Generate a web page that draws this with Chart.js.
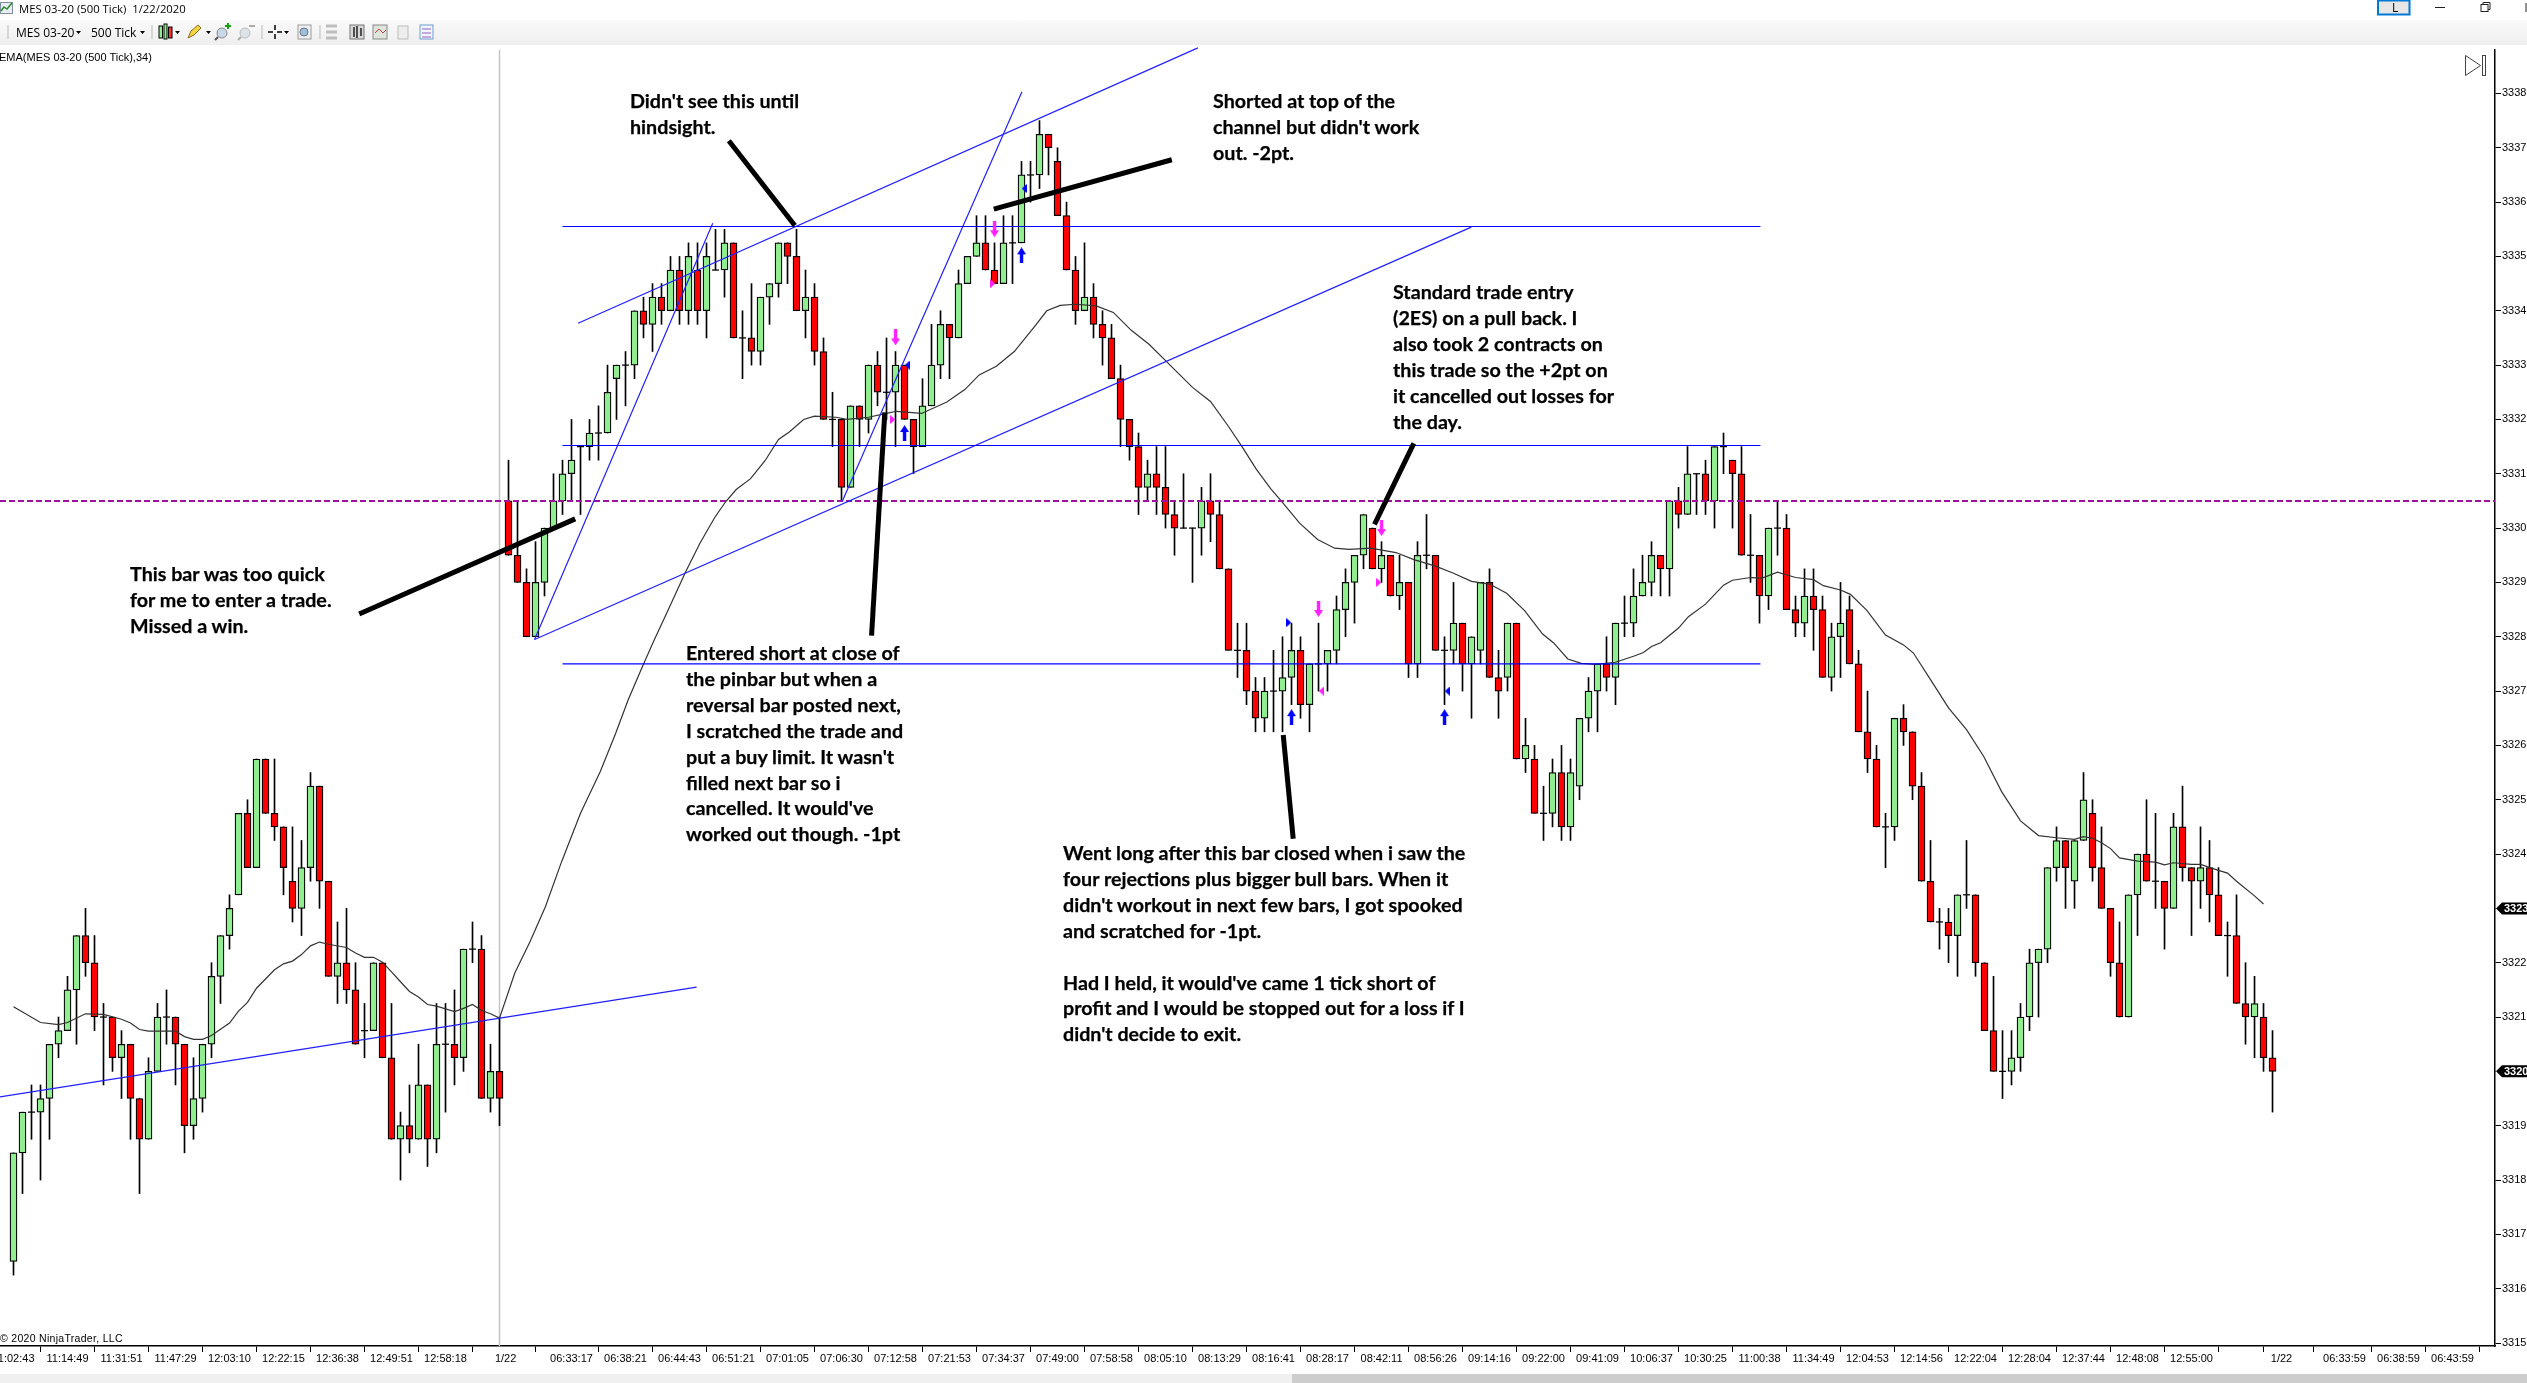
<!DOCTYPE html>
<html>
<head>
<meta charset="utf-8">
<title>MES 03-20 (500 Tick) 1/22/2020</title>
<script src="https://cdn.jsdelivr.net/npm/chart.js@4"></script>
<style>
  html, body { margin: 0; padding: 0; background: #fff; overflow: hidden; }
  #page { position: relative; width: 2527px; height: 1383px; overflow: hidden; }
  #chart { position: absolute; left: 0; top: 0; }
  .abs { position: absolute; white-space: pre; color: #000; }
  .ui { font: 12px "Open Sans", sans-serif; }
  .small { font: 11px "Liberation Sans", sans-serif; }
  .note { position: absolute; white-space: pre; color: #000; font: bold 19.7px/25.9px Lato, sans-serif; -webkit-text-stroke: .25px #000; }
</style>
</head>
<body>
<div id="page">
  <canvas id="chart" width="2527" height="1383"></canvas>

  <!-- window title + toolbar -->
  <div class="abs" style="left:0;top:20px;width:2527px;height:25px;background:linear-gradient(#fafafa,#eeeeee)"></div>
  <svg class="abs" style="left:0;top:0" width="2527" height="46">
    <rect x="0.5" y="2.5" width="12" height="11" fill="#e8eef6" stroke="#8090a0"/>
    <polyline points="1,11 4,7 7,9 12,3" fill="none" stroke="#2a8a2a" stroke-width="1.5"/>
    <!-- candles -->
    <rect x="159" y="26" width="3.5" height="12" fill="#90ee90" stroke="#000"/>
    <rect x="164" y="24" width="3" height="15" fill="#90ee90" stroke="#000"/>
    <rect x="168.5" y="27" width="3.5" height="11" fill="#ff3030" stroke="#000"/>
    <path d="M175 31h5l-2.5 3z M206 31h5l-2.5 3z M284 31h5l-2.5 3z M76 31h5l-2.5 3z M140 31h5l-2.5 3z"/>
    <!-- pencil -->
    <path d="M188 38l3-7 7-6 3 3-7 7z" fill="#f6d442" stroke="#8a6a20"/>
    <!-- zoom in / out -->
    <circle cx="222" cy="33" r="5" fill="#c8d8e8" stroke="#888"/><path d="M218 37l-3 3" stroke="#555" stroke-width="2"/>
    <path d="M225 26h6M228 23v6" stroke="#10a010" stroke-width="2"/>
    <circle cx="245" cy="33" r="5" fill="#dde3e8" stroke="#bbb"/><path d="M241 37l-3 3" stroke="#aaa" stroke-width="2"/>
    <path d="M249 26h6" stroke="#aaa" stroke-width="2"/>
    <!-- crosshair -->
    <path d="M268 32h5M277 32h5M275 25v5M275 34v5" stroke="#000" stroke-width="1.5"/>
    <rect x="298" y="25" width="13" height="14" fill="#eef2f6" stroke="#999"/>
    <circle cx="304" cy="32" r="4" fill="#9cc0e0" stroke="#777"/>
    <!-- separators -->
    <path d="M8 25v14M152 25v14M262 25v14M320 25v14" stroke="#bbb"/>
    <!-- disabled + chart tool icons -->
    <path d="M326 26h11M326 32h11M326 38h11" stroke="#bdbdbd" stroke-width="3"/>
    <rect x="350" y="25" width="14" height="14" fill="#d8d8d8" stroke="#777"/>
    <path d="M354 27v10M357 26v12M361 28v8" stroke="#222" stroke-width="1.5"/>
    <rect x="373" y="25" width="14" height="14" fill="#dfe5dc" stroke="#888"/>
    <polyline points="375,33 379,29 383,33 386,30" fill="none" stroke="#d04040"/>
    <rect x="398" y="26" width="10" height="13" fill="#eee" stroke="#bbb"/>
    <rect x="420" y="25" width="13" height="14" fill="#f4f4ff" stroke="#6aa0d0"/>
    <path d="M422 29h9M422 33h9M422 37h9" stroke="#9060c0"/>
    <!-- window buttons -->
    <rect x="2378" y="0.5" width="31.5" height="14" fill="#e6e6e6" stroke="#0078d7" stroke-width="2"/>
    <path d="M2435 7.5h10" stroke="#222"/>
    <rect x="2481" y="4.5" width="7" height="7" fill="none" stroke="#222"/><path d="M2483 4.5v-2h7v7h-2" fill="none" stroke="#222"/>
    <path d="M2526 3v9" stroke="#222"/>
    <!-- jump-to-end button -->
  </svg>
  <svg class="abs" style="left:2460px;top:50px" width="30" height="30">
    <path d="M5.5 5.5L20.5 15.5L5.5 25.5Z" fill="#fff" stroke="#444"/>
    <rect x="22.5" y="5.5" width="3" height="20" fill="#fff" stroke="#444"/>
  </svg>
  <div class="abs ui" style="left:19px;top:1px;font-size:11.3px">MES 03-20 (500 Tick)  1/22/2020</div>
  <div class="abs ui" style="left:16px;top:24px">MES 03-20</div>
  <div class="abs ui" style="left:91px;top:24px">500 Tick</div>
  <div class="abs small" style="left:-1px;top:51px">EMA(MES 03-20 (500 Tick),34)</div>
  <div class="abs" style="left:2392px;top:-1px;font:12px 'Open Sans',sans-serif">L</div>
  <div class="abs small" style="left:0;top:1332px;font-size:10.5px;letter-spacing:.3px">© 2020 NinjaTrader, LLC</div>
  <div class="abs" style="left:0;top:1374px;width:1292px;height:9px;background:#f0f0f0"></div>
  <div class="abs" style="left:1292px;top:1374px;width:1235px;height:9px;background:#cdcdcd"></div>

  <!-- trader's notes -->
  <div class="note" style="left:130px;top:561px">This bar was too quick
for me to enter a trade.
Missed a win.</div>
  <div class="note" style="left:630px;top:88px">Didn't see this until
hindsight.</div>
  <div class="note" style="left:1213px;top:88px">Shorted at top of the
channel but didn't work
out. -2pt.</div>
  <div class="note" style="left:1393px;top:279px">Standard trade entry
(2ES) on a pull back. I
also took 2 contracts on
this trade so the +2pt on
it cancelled out losses for
the day.</div>
  <div class="note" style="left:686px;top:640px">Entered short at close of
the pinbar but when a
reversal bar posted next,
I scratched the trade and
put a buy limit. It wasn't
filled next bar so i
cancelled. It would've
worked out though. -1pt</div>
  <div class="note" style="left:1063px;top:840px">Went long after this bar closed when i saw the
four rejections plus bigger bull bars. When it
didn't workout in next few bars, I got spooked
and scratched for -1pt.

Had I held, it would've came 1 tick short of
profit and I would be stopped out for a loss if I
didn't decide to exit.</div>
</div>

<script>
// candles, one entry per bar
const opens = [
  3316.5,3318.5,3319.25,3319.25,3319.5,3320.5,3320.75,3321.5,3322.5,3322,
  3321,3321,3320.25,3320.5,3319.5,3318.75,3320,3321,3321,3320.5,
  3319,3319.5,3320.5,3321.75,3322.5,3323.25,3324.75,3323.75,3325.75,3324.75,
  3324.5,3323.5,3323,3323.75,3325.25,3323.5,3321.75,3322,3321.5,3320.75,
  3320.75,3322,3320.25,3318.75,3319,3318.75,3319.75,3318.75,3320.5,3320.5,
  3320.25,3322.25,3322.25,3319.5,3320,3330.5,3329.5,3329,3328,3329,
  3330,3330.5,3331,3331.5,3331.5,3331.75,3331.75,3332.75,3333,3333,
  3334,3333.75,3334.25,3334,3334.75,3334,3334.75,3334,3334.75,3334.75,
  3335.25,3333.5,3333.5,3333.25,3334.25,3334.5,3335.25,3335,3334,3334.25,
  3333.25,3332,3332,3330.75,3332.25,3332,3333,3332.5,3332.5,3333,
  3332,3331.5,3332.25,3333,3333.75,3333.5,3334.5,3335,3335.25,3334.75,
  3334.5,3335.25,3335.25,3336.5,3336.5,3337.25,3336.75,3335.75,3334.75,3334,
  3334.25,3333.75,3333.5,3332.75,3332,3331.5,3330.75,3331,3330.75,3330.25,
  3330,3330,3330,3330.5,3330.25,3329.25,3327.75,3327.75,3327,3326.5,
  3327,3327,3327.25,3327.75,3326.75,3327.5,3327.5,3327.75,3328.5,3329,
  3329.5,3330,3329.25,3329.5,3328.75,3329,3327.5,3329.5,3329.5,3327.75,
  3327.75,3328.25,3327.5,3327.75,3329,3327.25,3327.25,3328.25,3325.75,3325.75,
  3324.75,3324.75,3325.5,3324.5,3325.25,3326.5,3327,3327.5,3327.25,3328.25,
  3328.25,3328.75,3329,3329.5,3329.25,3330.5,3330.25,3331,3331,3330.5,
  3331.5,3331.25,3331,3329.5,3329.5,3328.75,3330,3330,3328.5,3328.25,
  3328.75,3328.5,3327.25,3328,3328.5,3327.5,3326.25,3325.75,3324.5,3324.5,
  3326.5,3326.25,3325.25,3323.5,3322.75,3322.75,3322.5,3323.25,3323.25,3322,
  3320.75,3320,3320,3320.25,3321,3322,3322.25,3323.75,3324.25,3323.5,
  3324.25,3324.75,3323.75,3323,3322,3321,3323.25,3324,3323.5,3323.5,
  3323,3324.5,3323.75,3323.5,3323.75,3323.25,3322.5,3322.5,3321.25,3321,
  3321,3320.25
];
const highs = [
  3318.5,3319.25,3319.75,3319.75,3320.5,3321,3321.75,3322.5,3323,3322.5,
  3321.25,3321,3320.75,3320.5,3319.5,3320.25,3321.25,3321.5,3321,3320.5,
  3320.25,3320.5,3322,3322.5,3323.25,3324.75,3325,3325.75,3325.75,3325.75,
  3324.5,3324.5,3324.25,3325.5,3325.25,3323.5,3322.75,3323,3322,3321.25,
  3322,3322,3321.25,3319.25,3319.75,3320.5,3319.75,3321.25,3321.25,3321.5,
  3322.25,3322.75,3322.5,3320.5,3321,3331.25,3330.5,3329.25,3329.75,3330,
  3331,3331.25,3332,3331.5,3332,3332.25,3333,3333,3333.25,3334,
  3334.25,3334.5,3334.5,3335,3335,3335.25,3335.25,3335.25,3335.5,3335.5,
  3335.25,3334,3334.5,3334.25,3334.5,3335.25,3335.25,3335.5,3334.75,3334.5,
  3333.5,3332.5,3332,3332.25,3332.25,3333,3333.25,3333.5,3333.25,3333,
  3332,3332.75,3333.75,3334,3333.75,3334.75,3335,3335.75,3335.75,3335.25,
  3335.75,3335.75,3336.75,3336.75,3337.5,3337.25,3337,3336,3335,3335.25,
  3334.5,3334,3333.75,3333,3332,3331.75,3331.25,3331.5,3331.5,3330.5,
  3331,3330,3330.75,3331,3330.5,3329.25,3328.25,3328.25,3327.25,3327.25,
  3327.75,3328,3328.25,3328,3327.5,3328.25,3327.75,3328.75,3329.25,3329.5,
  3330.25,3330,3329.75,3329.5,3329.5,3329,3329.75,3330.25,3329.5,3328,
  3329,3328.25,3328,3329,3329.25,3327.75,3328.25,3328.25,3326.5,3326,
  3325.25,3325.75,3326,3325.75,3326.5,3327.25,3327.5,3328,3328.25,3328.75,
  3329.25,3329.5,3329.75,3329.5,3330.5,3330.75,3331.5,3331,3331.25,3331.5,
  3331.75,3331.25,3331.5,3330.25,3329.5,3330,3330.5,3330.25,3328.75,3329.25,
  3329.25,3328.75,3328.25,3329,3328.75,3327.75,3327,3326,3324.75,3326.5,
  3326.75,3326.25,3325.5,3324.25,3323,3323,3323.25,3324.25,3323.25,3322,
  3321.75,3320.75,3320.75,3321.25,3322.25,3322.25,3323.75,3324.5,3324.25,3324.25,
  3325.5,3325,3324.5,3323,3322.75,3323.25,3324,3325,3324.75,3323.5,
  3324.75,3325.25,3323.75,3324.5,3324.25,3323.75,3322.75,3323.25,3322,3321.75,
  3321.25,3320.75
];
const lows = [
  3316.25,3317.75,3318.75,3318,3318.75,3320.25,3320.75,3320.5,3321.75,3320.75,
  3319.75,3320,3319.5,3318.75,3317.75,3318.75,3320,3320.5,3319.75,3318.5,
  3318.75,3319.25,3320.25,3321.25,3322.25,3323.25,3323.75,3323.75,3324.75,3324.25,
  3323.25,3322.75,3322.5,3323.5,3323,3321.75,3321.25,3321.25,3320.5,3320.25,
  3320.75,3320.25,3318.75,3318,3318.5,3318.75,3318.25,3318.5,3319.25,3319.75,
  3320,3322,3319.5,3319.25,3319,3329.5,3329,3328,3328,3328.75,
  3330,3330.25,3330.5,3330.25,3331.25,3331.25,3331.75,3332,3332.25,3332.75,
  3333.5,3333.25,3333.75,3334,3333.75,3333.75,3333.75,3333.5,3334.75,3334.25,
  3333.5,3332.75,3333,3333,3333.75,3334.25,3334.5,3334,3333.5,3333,
  3332,3331.5,3330.5,3330.75,3331.5,3331.75,3332.25,3332,3331.5,3332,
  3331,3331.5,3332.25,3332.75,3332.75,3333.5,3334.5,3335,3334.75,3334.5,
  3334.5,3334.5,3335.25,3336,3336.25,3336.5,3335.75,3334.75,3333.75,3334,
  3333.5,3333,3332.75,3331.5,3331.25,3330.25,3330.5,3330.25,3330,3329.5,
  3330,3329,3329.5,3329.75,3329.25,3327.75,3327.25,3326.75,3326.25,3326.25,
  3326.25,3326.25,3326.75,3326.5,3326.25,3327,3327,3327.5,3328,3328.25,
  3329.25,3329.25,3329,3328.75,3328.5,3327.25,3327.25,3329.25,3327.75,3326.75,
  3327.5,3327,3326.5,3327.5,3327.25,3326.5,3327,3325.75,3325.5,3324.75,
  3324.25,3324.5,3324.25,3324.25,3325,3326.25,3326.25,3327,3326.75,3328,
  3328,3328.75,3328.75,3328.75,3328.75,3330,3330.25,3330.25,3330.25,3330,
  3331,3330,3329.5,3329,3328.25,3328.5,3329.5,3328.5,3328,3328,
  3327.75,3327.25,3327,3327.25,3327.5,3326.25,3325.5,3324.5,3323.75,3324.25,
  3326,3325,3323.5,3322.75,3322.25,3322,3321.75,3323,3321.75,3320.75,
  3320,3319.5,3319.75,3320,3320.75,3321,3322,3323.5,3323,3323,
  3324.25,3323.5,3323,3321.75,3321,3321,3322.5,3323.5,3323,3322.25,
  3323,3323.5,3322.5,3323,3322.75,3322.5,3321.75,3321.25,3320.5,3320.25,
  3320,3319.25
];
const closes = [
  3318.5,3319.25,3319.25,3319.5,3320.5,3320.75,3321.5,3322.5,3322,3321,
  3321,3320.25,3320.5,3319.5,3318.75,3320,3321,3321,3320.5,3319,
  3319.5,3320.5,3321.75,3322.5,3323,3324.75,3323.75,3325.75,3324.75,3324.5,
  3323.75,3323,3323.75,3325.25,3323.5,3321.75,3322,3321.5,3320.5,3320.75,
  3322,3320.25,3318.75,3319,3318.75,3319.75,3318.75,3320.5,3320.5,3320.25,
  3322.25,3322.25,3319.5,3320,3319.5,3329.5,3329,3328,3329,3330,
  3330.5,3331,3331.25,3331.5,3331.75,3331.75,3332.5,3333,3333,3334,
  3333.75,3334.25,3334,3334.75,3334,3335,3334,3335,3334.75,3335.25,
  3333.5,3333.5,3333.25,3334.25,3334.5,3335.25,3335,3334,3334.25,3333.25,
  3332,3332,3330.75,3332.25,3332,3333,3332.5,3332.5,3333,3332,
  3331.5,3332.25,3333,3333.75,3333.5,3334.5,3335,3335.25,3334.75,3334.5,
  3335.25,3335.25,3336.5,3336.5,3337.25,3337,3335.75,3334.75,3334,3334.25,
  3333.75,3333.5,3332.75,3332,3331.5,3330.75,3331,3330.75,3330.25,3330,
  3330,3330,3330.5,3330.25,3329.25,3327.75,3327.75,3327,3326.5,3327,
  3327,3327.25,3327.75,3326.75,3327.5,3327.5,3327.75,3328.5,3329,3329.5,
  3330.25,3329.25,3329.5,3328.75,3329,3327.5,3329.5,3329.5,3327.75,3327.75,
  3328.25,3327.5,3328,3329,3327.25,3327,3328.25,3325.75,3326,3324.75,
  3324.75,3325.5,3324.5,3325.5,3326.5,3327,3327.5,3327.25,3328.25,3328.25,
  3328.75,3329,3329.5,3329.25,3330.5,3330.25,3331,3331,3330.5,3331.5,
  3331.5,3331,3329.5,3329.5,3328.75,3330,3330,3328.5,3328.25,3328.75,
  3328.5,3327.25,3328,3328.25,3327.5,3326.25,3325.75,3324.5,3324.5,3326.5,
  3326.25,3325.25,3323.5,3322.75,3322.75,3322.5,3323.25,3323.25,3322,3320.75,
  3320,3320,3320.25,3321,3322,3322.25,3323.75,3324.25,3323.75,3324.25,
  3325,3323.75,3323,3322,3321,3323.25,3324,3323.5,3323.5,3323,
  3324.5,3323.75,3323.5,3323.75,3323.25,3322.5,3322.5,3321.25,3321,3321.25,
  3320.25,3320
];

// EMA(34), read at these bar positions
const emaBars = [0,3,5,6,8,10,12,13,14,15,18,19,20,21,22,24,25,26,27,29,30,31,32,33,34,35,37,38,39,40,41,42,43,44,45,46,47,49,50,51,52,53,54,
  55.7,57.4,59.1,60.9,63,65.2,66.9,68.3,69.8,71.1,72.7,74.7,76.3,77.9,79.1,80.3,81.9,83.5,85,86.2,87.8,89,91.4,92.6,95,97,98.1,100.9,103.7,105.7,107.3,109.2,111.2,113.6,114.8,116.3,
  118,120.3,122.2,124.2,126.2,128.2,131,133,135,136.5,138.1,139.7,140.9,142.9,144.9,146.8,148.4,150.8,153.6,155.6,158,160,162,164,165.9,167.9,169.9,171.1,172.7,174.2,175.8,
  178,180,181.1,182,183,185,186.1,188,190,191,193,194.3,196,198,200,201.1,203,204.1,205.9,208,210,211.1,213,215,217,218.9,220.9,223,225,227,229,230,231,232,233,234,236,238,239,240,242,243,245,246,247,249,250];
const emaValues = [3321.19,3320.9,3320.86,3320.9,3321.06,3321.05,3320.96,3320.89,3320.77,3320.74,3320.74,3320.64,3320.59,3320.59,3320.66,3320.89,3321.11,3321.27,3321.53,3321.87,3321.98,3322.03,3322.15,3322.31,3322.38,3322.34,3322.28,3322.18,3322.1,3322.1,3322.01,3321.83,3321.65,3321.47,3321.37,3321.23,3321.2,3321.1,3321.16,3321.23,3321.12,3321.06,3320.98,
  3321.81,3322.39,3323.03,3323.86,3324.75,3325.52,3326.22,3326.84,3327.42,3327.91,3328.48,3329.2,3329.73,3330.19,3330.48,3330.71,3330.91,3331.24,3331.63,3331.77,3332,3332.06,3332.04,3332,3332.04,3332.11,3332.15,3332.11,3332.32,3332.55,3332.82,3332.98,3333.25,3333.74,3334,3334.1,
  3334.12,3334.09,3333.97,3333.64,3333.38,3333.05,3332.59,3332.33,3331.87,3331.5,3331.08,3330.72,3330.49,3330.09,3329.79,3329.63,3329.61,3329.63,3329.55,3329.42,3329.3,3329.17,3329.02,3328.97,3328.8,3328.48,3328.05,3327.89,3327.59,3327.51,3327.49,
  3327.53,3327.64,3327.71,3327.82,3327.89,3328.16,3328.37,3328.6,3328.95,3329.04,3329.09,3329.08,3329.19,3329.09,3329.05,3328.94,3328.86,3328.78,3328.49,3328.03,3327.85,3327.7,3327.21,3326.69,3326.29,3325.8,3325.15,3324.61,3324.34,3324.3,3324.27,3324.32,3324.29,3324.21,3324.1,3323.93,3323.87,3323.85,3323.8,3323.84,3323.81,3323.81,3323.7,3323.65,3323.5,3323.23,3323.08];

// axis labels
const priceTicks = [3315,3316,3317,3318,3319,3320,3321,3322,3323,3324,3325,3326,3327,3328,3329,3330,3331,3332,3333,3334,3335,3336,3337,3338];
const timeTickBars = [0,6,12,18,24,30,36,42,48,54,62,68,74,80,86,92,98,104,110,116,122,128,134,140,146,152,158,164,170,176,182,188,194,200,206,212,218,224,230,236,242,248,252,259,265,271];
const timeTickLabels = ['11:02:43','11:14:49','11:31:51','11:47:29','12:03:10','12:22:15','12:36:38','12:49:51','12:58:18','    1/22',
  '06:33:17','06:38:21','06:44:43','06:51:21','07:01:05','07:06:30','07:12:58','07:21:53','07:34:37','07:49:00','07:58:58','08:05:10','08:13:29','08:16:41','08:28:17','08:42:11','08:56:26','09:14:16','09:22:00','09:41:09','10:06:37','10:30:25','11:00:38','11:34:49','12:04:53','12:14:56','12:22:04','12:28:04','12:37:44','12:48:08','12:55:00','',
  '1/22','06:33:59','06:38:59','06:43:59'];

// drawn lines, as [bar, price] end points
const levelPrices = [3335.55, 3331.52, 3327.5];
const levelFromBar = 61, levelToBar = 194.1;
const dashedPrice = 3330.5;
const sessionBar = 54;
const trendLines = [
  [[-1.5, 3319.53], [75.9, 3321.55]],
  [[62.73, 3333.77], [131.6, 3338.84]],
  [[57.89, 3327.95], [161.97, 3335.54]],
  [[92.1, 3330.5], [112.05, 3338.03]],
  [[57.89, 3327.95], [77.69, 3335.61]]
];
const pointerLines = [
  [[38.41, 3328.42], [62.41, 3330.17]],
  [[79.48, 3337.13], [86.81, 3335.57]],
  [[108.92, 3335.87], [128.7, 3336.78]],
  [[96.81, 3332.13], [95.34, 3328.02]],
  [[141.08, 3326.19], [142.19, 3324.28]],
  [[155.59, 3331.56], [151.22, 3330.07]]
];

// execution markers, as [bar, price]
const pinkDown = [[98,3333.51],[109,3335.5],[145,3328.51],[152,3330]];
const blueUp = [[99,3331.75],[112,3335.02],[142,3326.52],[159,3326.52]];
const pinkRight = [[97.7,3332],[108.8,3334.5],[151.7,3329]];
const blueLeft = [[99.3,3333],[112.3,3336.25],[159.3,3327]];
const blueRight = [[141.7,3328.26]];
const pinkLeft = [[145.3,3327]];

const flagPrices = [3323, 3320];

const toXY = p => ({ x: p[0], y: p[1] });

function arrowSprite(color, up) {
  const c = document.createElement('canvas');
  c.width = 9; c.height = 16;
  const g = c.getContext('2d');
  if (!up) { g.translate(0, 16); g.scale(1, -1); }
  g.fillStyle = color;
  g.beginPath();
  g.moveTo(4.5, 0); g.lineTo(9, 7); g.lineTo(6.2, 7); g.lineTo(6.2, 16);
  g.lineTo(2.8, 16); g.lineTo(2.8, 7); g.lineTo(0, 7);
  g.closePath(); g.fill();
  return c;
}

function triSprite(color, right) {
  const c = document.createElement('canvas');
  c.width = 5; c.height = 9;
  const g = c.getContext('2d');
  g.fillStyle = color;
  g.beginPath();
  if (right) { g.moveTo(0, 0); g.lineTo(5, 4.5); g.lineTo(0, 9); }
  else { g.moveTo(5, 0); g.lineTo(0, 4.5); g.lineTo(5, 9); }
  g.closePath(); g.fill();
  return c;
}

function markerSet(points, sprite) {
  return { type: 'line', data: points.map(toXY), showLine: false, pointStyle: sprite, pointRadius: 8, order: 1 };
}

function lineSet(points, color, width, order, dash) {
  return {
    type: 'line', data: points.map(toXY), borderColor: color, borderWidth: width,
    borderDash: dash || [], pointRadius: 0, order: order, tension: 0, clip: 3
  };
}

const bodyBars = [], bodyColors = [], wickBars = [], dojiPoints = [];
closes.forEach((c, i) => {
  wickBars.push({ x: i, y: [lows[i], highs[i]] });
  if (c === opens[i]) {
    dojiPoints.push({ x: i, y: c });
  } else {
    bodyBars.push({ x: i, y: [opens[i], c] });
    bodyColors.push(c > opens[i] ? '#90ee90' : '#ff0000');
  }
});

const datasets = [
  lineSet([[sessionBar, 3314.945], [sessionBar, 3338.8]], '#c4c4c4', 1.5, 20),
  { type: 'bar', data: wickBars, backgroundColor: '#000', barThickness: 1, grouped: false, order: 12 },
  { type: 'bar', data: bodyBars, backgroundColor: bodyColors, borderColor: '#000', borderWidth: 1.25, borderSkipped: false, barThickness: 7, grouped: false, order: 11 },
  { type: 'line', data: dojiPoints, showLine: false, pointStyle: 'line', pointRadius: 3.5, pointBorderColor: '#000', pointBorderWidth: 1.25, order: 10 },
  lineSet(emaBars.map((b, i) => [b, emaValues[i]]), '#333333', 1.2, 9),
  lineSet([[-1.5, dashedPrice], [275.72, dashedPrice]], '#a010a0', 2, 6, [6, 3])
];
levelPrices.forEach(p => datasets.push(lineSet([[levelFromBar, p], [levelToBar, p]], '#0000ff', 1.1, 5)));
trendLines.forEach(l => datasets.push(lineSet(l, '#2020ff', 1.2, 5)));
pointerLines.forEach(l => datasets.push(lineSet(l, '#000', 5, 2)));
datasets.push(markerSet(pinkDown, arrowSprite('#ff20ff', false)));
datasets.push(markerSet(blueUp, arrowSprite('#0000ff', true)));
datasets.push(markerSet(pinkRight, triSprite('#ff20ff', true)));
datasets.push(markerSet(pinkLeft, triSprite('#ff20ff', false)));
datasets.push(markerSet(blueLeft, triSprite('#0000ff', false)));
datasets.push(markerSet(blueRight, triSprite('#0000ff', true)));

// black price flags on the right axis
const priceFlags = {
  id: 'priceFlags',
  afterDraw(chart) {
    const g = chart.ctx, y = chart.scales.y, left = y.left + 1;
    g.save();
    g.font = 'bold 11px "Liberation Sans", sans-serif';
    g.textBaseline = 'middle';
    flagPrices.forEach(p => {
      const py = y.getPixelForValue(p);
      g.fillStyle = '#fff';
      g.fillRect(left, py - 7, 32, 14);
      g.fillStyle = '#000';
      g.beginPath();
      g.moveTo(left, py); g.lineTo(left + 6, py - 6); g.lineTo(2527, py - 6);
      g.lineTo(2527, py + 6); g.lineTo(left + 6, py + 6);
      g.closePath(); g.fill();
      g.fillStyle = '#fff';
      g.fillText(String(p), left + 8, py + 0.5);
    });
    g.restore();
  }
};

new Chart(document.getElementById('chart'), {
  type: 'bar',
  data: { datasets: datasets },
  plugins: [priceFlags],
  options: {
    responsive: false,
    animation: false,
    devicePixelRatio: 1,
    layout: { autoPadding: false, padding: { top: 50 } },
    plugins: { legend: { display: false }, tooltip: { enabled: false } },
    events: [],
    scales: {
      x: {
        type: 'linear',
        offset: false,
        min: -1.5,
        max: 275.72,
        afterFit: s => { s.height = 37; s.paddingLeft = 0; s.paddingRight = 0; },
        afterBuildTicks: s => { s.ticks = timeTickBars.map(v => ({ value: v })); },
        border: { color: '#000', width: 1.5 },
        grid: { display: true, drawOnChartArea: false, drawTicks: true, tickLength: 6, color: '#000' },
        ticks: {
          autoSkip: false, maxRotation: 0, padding: 0, color: '#000',
          font: { family: '"Liberation Sans"', size: 11 },
          callback: v => timeTickLabels[timeTickBars.indexOf(v)]
        }
      },
      y: {
        position: 'right',
        min: 3314.945,
        max: 3338.8,
        afterFit: s => { s.width = 32; s.paddingTop = 0; s.paddingBottom = 0; },
        afterBuildTicks: s => { s.ticks = priceTicks.map(v => ({ value: v })); },
        border: { color: '#000', width: 1.5 },
        grid: { display: true, drawOnChartArea: false, drawTicks: true, tickLength: 6, color: '#000' },
        ticks: {
          padding: 1, color: '#000',
          font: { family: '"Liberation Sans"', size: 11 },
          callback: v => String(v)
        }
      }
    }
  }
});
</script>
</body>
</html>
